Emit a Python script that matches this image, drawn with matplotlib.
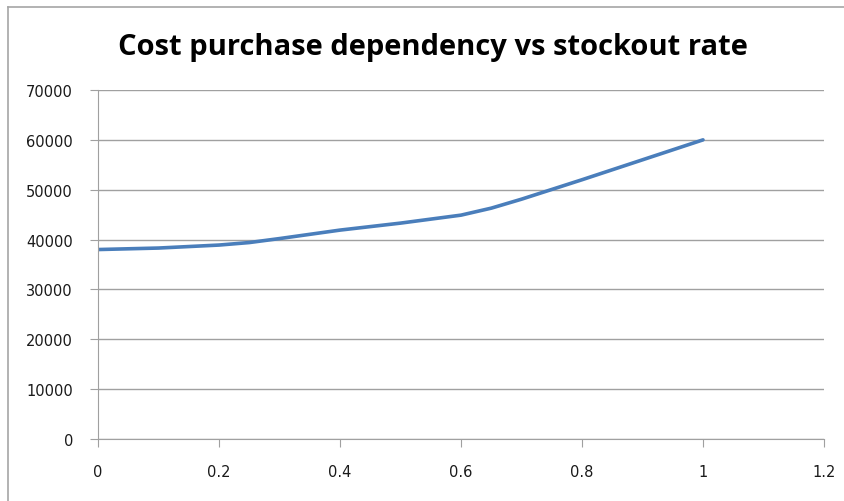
import matplotlib.pyplot as plt
from matplotlib.lines import Line2D

#==============================
#Dados
#==============================
stockout_rate = [0, 0.1, 0.2, 0.25, 0.3, 0.4, 0.5, 0.6, 0.65, 0.7, 0.8, 0.9, 1.0]
cost_purchase = [38000, 38300, 38900, 39400, 40200, 41900, 43300, 44900, 46300, 48100, 52000, 56000, 60000]
x_ticks = [0, 0.2, 0.4, 0.6, 0.8, 1, 1.2]
x_labels = ['0', '0.2', '0.4', '0.6', '0.8', '1', '1.2']
y_ticks = [0, 10000, 20000, 30000, 40000, 50000, 60000, 70000]

#==============================
#Figura
#==============================
fig = plt.figure(figsize=(8.45, 5.02), dpi=100)
# moldura (so topo e esquerda aparecem)
fig.lines.append(Line2D([8/845, 1.0], [1 - 8/502, 1 - 8/502], transform=fig.transFigure,
                        color='#A6A6A6', linewidth=1.2))
fig.lines.append(Line2D([8/845, 8/845], [0, 1 - 8/502], transform=fig.transFigure,
                        color='#A6A6A6', linewidth=1.2))

ax = fig.add_axes([98/845, 1 - 440/502, (824 - 98)/845, (440 - 91)/502])
ax.plot(stockout_rate, cost_purchase, color='#4A7EBB', linewidth=2.6, solid_capstyle='round',
        solid_joinstyle='round')

ax.set_xlim(0, 1.2)
ax.set_ylim(0, 70000)
ax.set_xticks(x_ticks)
ax.set_xticklabels(x_labels)
ax.set_yticks(y_ticks)
ax.yaxis.grid(True, color='#A0A0A0', linewidth=1)
ax.set_axisbelow(True)
for s in ['top', 'right']:
    ax.spines[s].set_visible(False)
for s in ['left', 'bottom']:
    ax.spines[s].set_color('#A0A0A0')
ax.tick_params(axis='both', direction='out', length=6, color='#A0A0A0',
               labelsize=10.5, labelcolor='#1a1a1a')
ax.tick_params(axis='x', pad=12)
ax.tick_params(axis='y', pad=12)

fig.text(433/845, 1 - 47/502, 'Cost purchase dependency vs stockout rate',
         ha='center', va='center', fontsize=21, fontweight='bold', family='Open Sans')

plt.savefig('out.png', dpi=100)
